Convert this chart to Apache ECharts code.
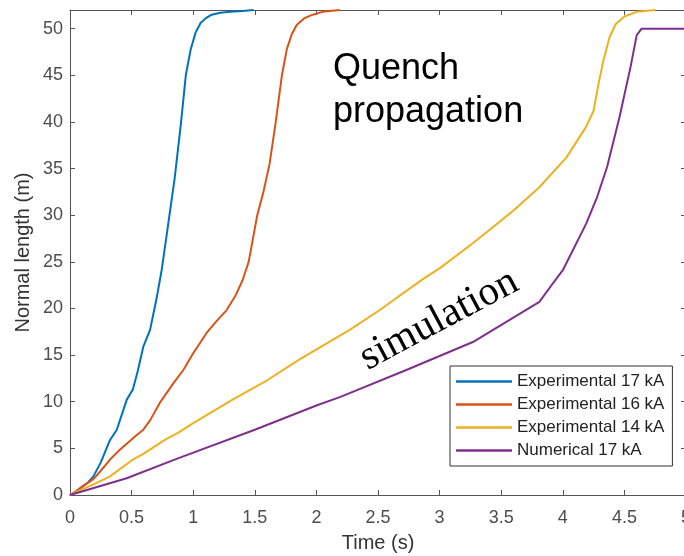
<!DOCTYPE html>
<html>
<head>
<meta charset="utf-8">
<style>
  html, body { margin: 0; padding: 0; background: #fff; }
  #chart { width: 684px; height: 556px; }
</style>
<script src="https://cdn.jsdelivr.net/npm/echarts@6/dist/echarts.min.js"></script>
</head>
<body>
<div id="chart"></div>
<script>
// ---- Data ----
var seriesNames = ['Experimental 17 kA', 'Experimental 16 kA', 'Experimental 14 kA', 'Numerical 17 kA'];

var exp17T = [0, 0.05, 0.1, 0.15, 0.19, 0.25, 0.325, 0.38, 0.46, 0.51, 0.55, 0.595, 0.65, 0.7, 0.744, 0.8, 0.85, 0.9, 0.94, 0.98, 1.02, 1.06, 1.1, 1.15, 1.22, 1.3, 1.4, 1.49];
var exp17L = [0, 0.4, 0.9, 1.4, 2.0, 3.5, 5.9, 7.0, 10.2, 11.3, 13.3, 15.9, 17.7, 20.9, 24.1, 29.3, 34.0, 39.8, 45.0, 47.8, 49.6, 50.6, 51.1, 51.5, 51.7, 51.8, 51.9, 52.0];

var exp16T = [0, 0.05, 0.1, 0.19, 0.25, 0.325, 0.4, 0.46, 0.53, 0.595, 0.65, 0.73, 0.84, 0.92, 1.0, 1.11, 1.2, 1.27, 1.34, 1.4, 1.45, 1.52, 1.57, 1.62, 1.67, 1.72, 1.76, 1.8, 1.84, 1.9, 1.97, 2.05, 2.19];
var exp16L = [0, 0.4, 0.9, 1.7, 2.6, 3.8, 4.8, 5.5, 6.3, 7.0, 8.0, 9.9, 12.0, 13.4, 15.2, 17.4, 18.8, 19.8, 21.3, 23.0, 25.0, 30.0, 32.5, 35.5, 40.0, 45.0, 47.8, 49.4, 50.4, 51.1, 51.5, 51.8, 52.0];

var exp14T = [0, 0.1, 0.2, 0.325, 0.5, 0.595, 0.78, 0.87, 1.0, 1.33, 1.6, 1.87, 2.27, 2.5, 2.87, 3.0, 3.27, 3.6, 3.81, 4.03, 4.19, 4.25, 4.29, 4.33, 4.38, 4.43, 4.5, 4.6, 4.75];
var exp14L = [0, 0.6, 1.2, 2.0, 3.7, 4.4, 6.0, 6.6, 7.7, 10.3, 12.3, 14.6, 17.7, 19.7, 23.2, 24.3, 27.0, 30.5, 33.0, 36.2, 39.5, 41.2, 44.1, 46.6, 49.1, 50.5, 51.3, 51.8, 52.0];

var num17T = [0, 0.46, 0.87, 1.5, 2.0, 2.19, 2.73, 3.27, 3.81, 3.92, 4.0, 4.19, 4.28, 4.36, 4.46, 4.55, 4.6, 4.64, 5.0];
var num17L = [0, 1.8, 3.9, 7.0, 9.6, 10.5, 13.4, 16.4, 20.7, 22.7, 24.1, 29.1, 32.0, 35.2, 40.5, 45.9, 49.3, 50.0, 50.0];

var xTicks = { min: 0, max: 5, interval: 0.5 };
var yTicks = { min: 0, max: 52, interval: 5 };

var seriesColors = ['#0072BD', '#D95319', '#EDB120', '#7E2F8E'];

function zip(t, l) { return t.map(function (v, i) { return [v, l[i]]; }); }
var seriesData = [zip(exp17T, exp17L), zip(exp16T, exp16L), zip(exp14T, exp14L), zip(num17T, num17L)];

var axisColor = '#555555';
var labelColor = '#4d4d4d';
var fontFam = '"Liberation Sans", Arial, Helvetica, sans-serif';
var lineIcon = 'path://M0 0H56V2.5H0Z';

var chart = echarts.init(document.getElementById('chart'), null, { renderer: 'canvas' });

var option = {
  animation: false,
  backgroundColor: '#ffffff',
  grid: { left: 70, right: -2, top: 10, bottom: 61, containLabel: false, outerBoundsMode: 'none' },
  legend: {
    orient: 'vertical',
    left: 450,
    top: 366,
    data: seriesNames.map(function (n) { return { name: n, icon: lineIcon }; }),
    itemWidth: 56,
    itemHeight: 17,
    itemGap: 6,
    padding: [7, 8, 7, 6],
    borderColor: '#333333',
    borderWidth: 1,
    backgroundColor: '#ffffff',
    textStyle: { fontSize: 17, lineHeight: 17, color: '#222222', fontFamily: fontFam },
    selectedMode: false
  },
  xAxis: [
    {
      type: 'value', position: 'bottom',
      min: xTicks.min, max: xTicks.max, interval: xTicks.interval,
      name: 'Time (s)', nameLocation: 'middle', nameGap: 38, nameMoveOverlap: false,
      nameTextStyle: { fontSize: 20, color: '#333333', fontFamily: fontFam },
      axisLine: { show: true, onZero: false, lineStyle: { color: axisColor, width: 1 } },
      axisTick: { show: true, inside: true, length: 5, lineStyle: { color: axisColor } },
      axisLabel: { show: true, margin: 14, fontSize: 18, color: labelColor, fontFamily: fontFam, hideOverlap: false },
      splitLine: { show: false }
    },
    {
      type: 'value', position: 'top',
      min: xTicks.min, max: xTicks.max, interval: xTicks.interval,
      axisLine: { show: true, onZero: false, lineStyle: { color: axisColor, width: 1 } },
      axisTick: { show: true, inside: true, length: 5, lineStyle: { color: axisColor } },
      axisLabel: { show: false },
      splitLine: { show: false }
    }
  ],
  yAxis: [
    {
      type: 'value', position: 'left',
      min: yTicks.min, max: yTicks.max, interval: yTicks.interval,
      name: 'Normal length (m)', nameLocation: 'middle', nameGap: 37, nameRotate: 90, nameMoveOverlap: false,
      nameTextStyle: { fontSize: 20, color: '#333333', fontFamily: fontFam },
      axisLine: { show: true, onZero: false, lineStyle: { color: axisColor, width: 1 } },
      axisTick: { show: true, inside: true, length: 5, lineStyle: { color: axisColor } },
      axisLabel: {
        show: true, margin: 7, fontSize: 18, color: labelColor, fontFamily: fontFam,
        showMaxLabel: false,
        formatter: function (v) { return (v % 5 === 0) ? String(v) : ''; }
      },
      splitLine: { show: false }
    },
    {
      type: 'value', position: 'right',
      min: yTicks.min, max: yTicks.max, interval: yTicks.interval,
      axisLine: { show: true, onZero: false, lineStyle: { color: axisColor, width: 1 } },
      axisTick: { show: true, inside: true, length: 5, lineStyle: { color: axisColor } },
      axisLabel: { show: false },
      splitLine: { show: false }
    }
  ],
  series: seriesNames.map(function (name, i) {
    return {
      name: name,
      type: 'line',
      xAxisIndex: 0,
      yAxisIndex: 0,
      data: seriesData[i],
      showSymbol: false,
      symbol: 'none',
      smooth: false,
      clip: true,
      color: seriesColors[i],
      lineStyle: { color: seriesColors[i], width: 2 }
    };
  }),
  graphic: [
    {
      type: 'text', left: 333, top: 51, z: 10,
      style: { text: 'Quench', font: '36px "Liberation Sans", Arial, sans-serif', fill: '#000000' }
    },
    {
      type: 'text', left: 333, top: 94, z: 10,
      style: { text: 'propagation', font: '36px "Liberation Sans", Arial, sans-serif', fill: '#000000' }
    },
    {
      type: 'text', x: 439, y: 320, rotation: 28 * Math.PI / 180, z: 10,
      style: {
        text: 'simulation', font: '41px "Liberation Serif", "Times New Roman", serif', fill: '#000000',
        textAlign: 'center', textVerticalAlign: 'middle', align: 'center', verticalAlign: 'middle'
      }
    }
  ]
};

chart.setOption(option);
</script>
</body>
</html>
